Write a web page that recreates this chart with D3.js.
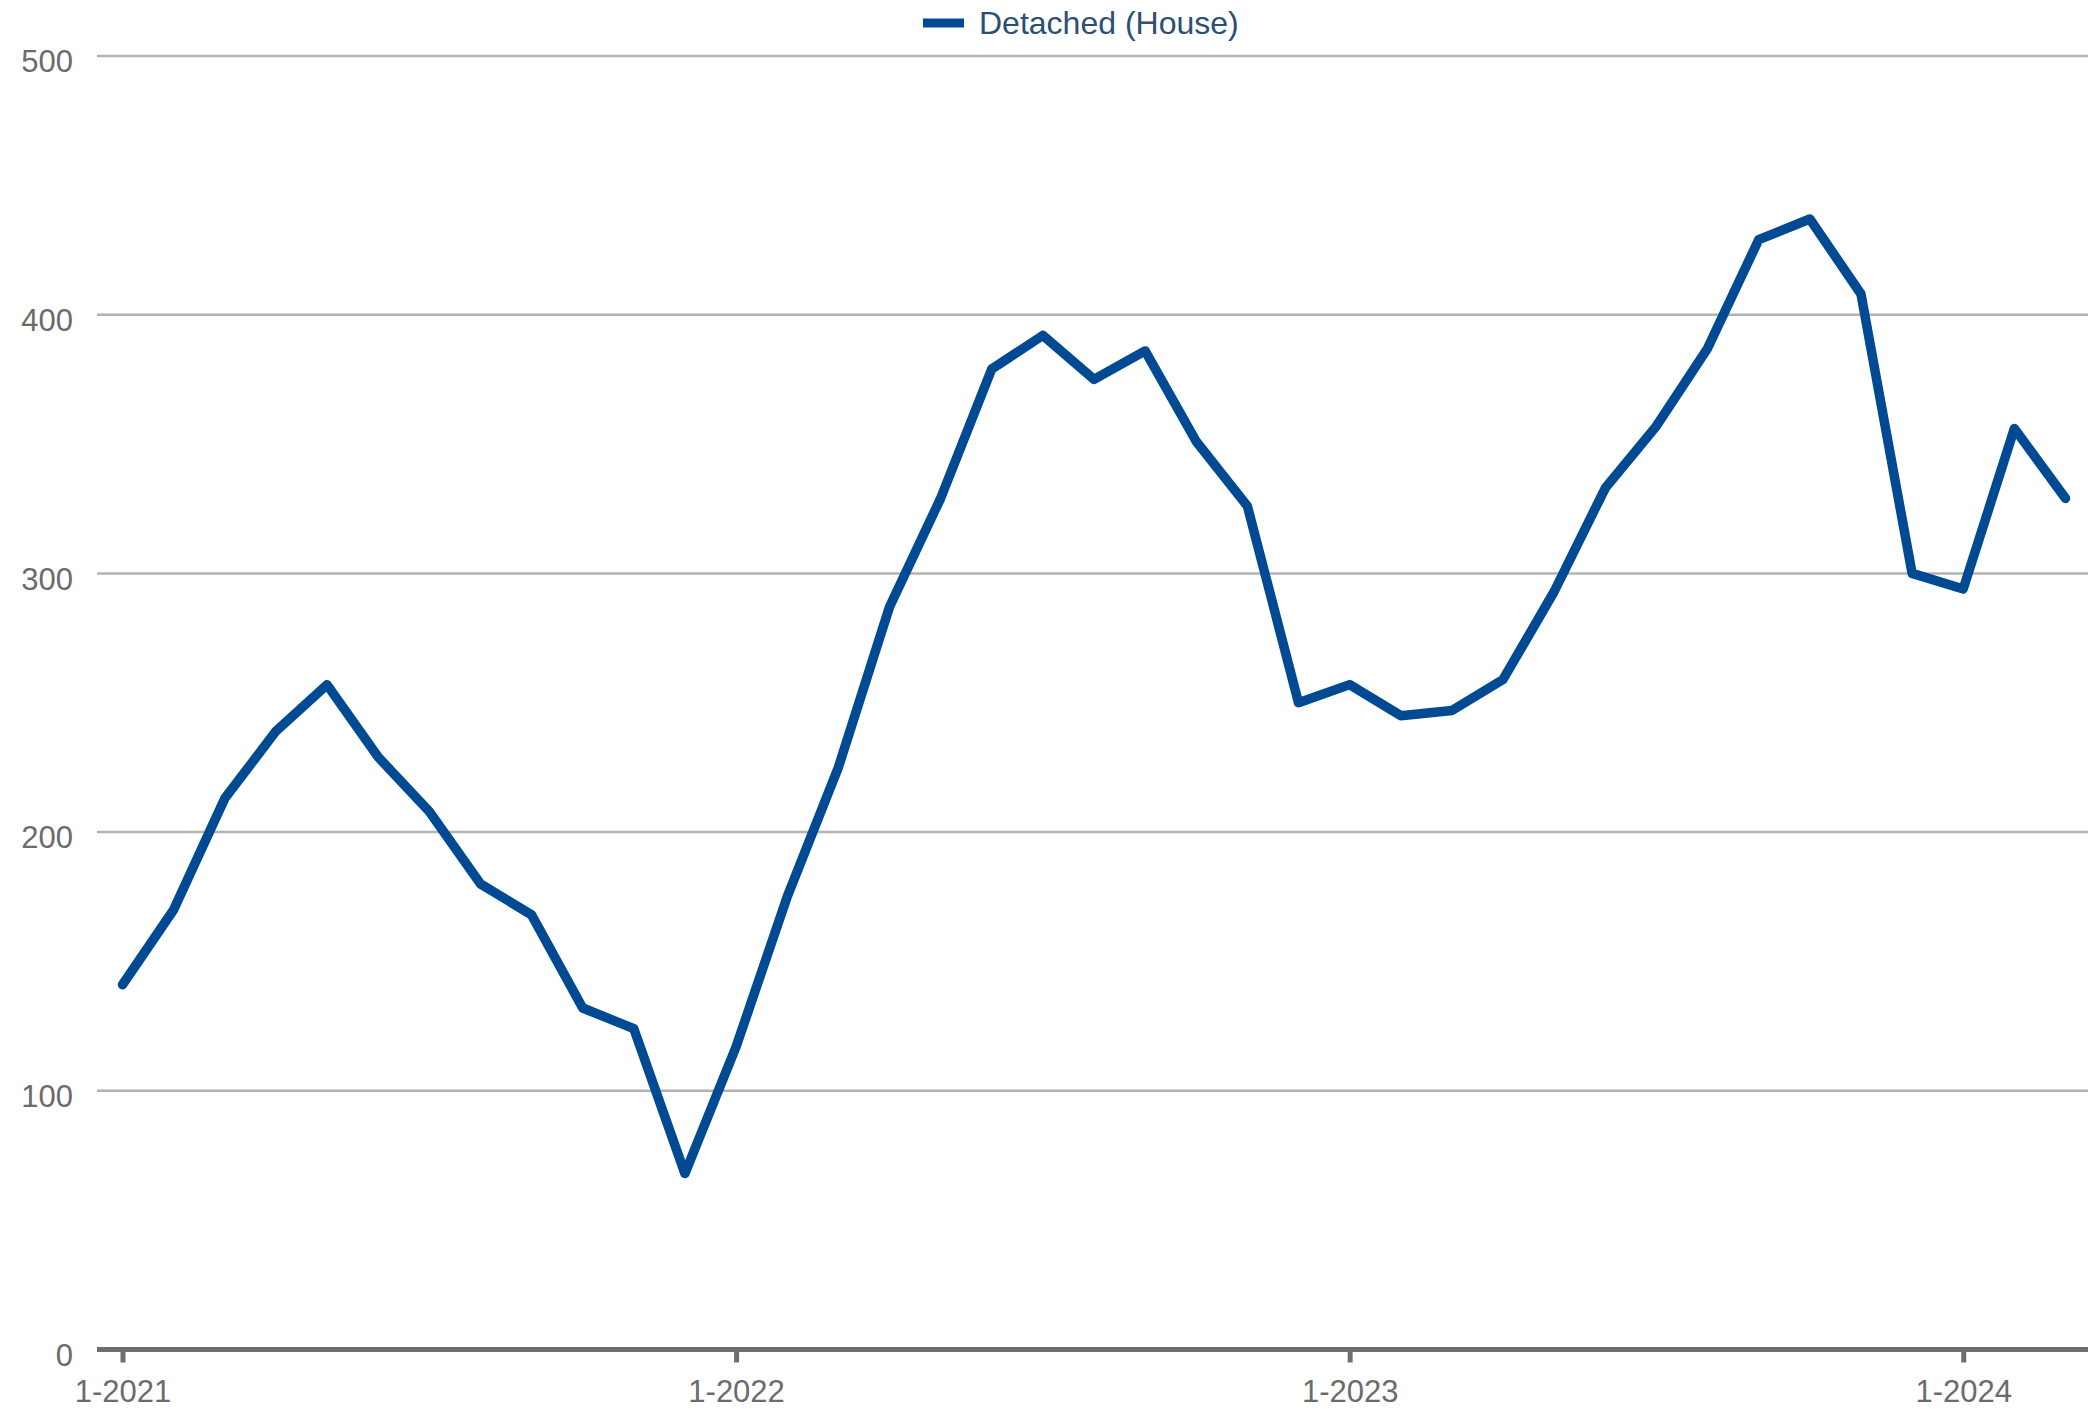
<!DOCTYPE html>
<html>
<head>
<meta charset="utf-8">
<script src="https://cdn.jsdelivr.net/npm/d3@7"></script>
<style>
  body { margin: 0; background: #fff; }
  svg { display: block; font-family: "Liberation Sans", Arial, sans-serif; }
</style>
</head>
<body>
<svg id="chart" width="2088" height="1409"></svg>
<script>
// months Jan 2021 .. Mar 2024
var months = [];
for (var yr = 2021; yr <= 2024; yr++) {
    for (var m = 1; m <= 12; m++) {
        if (yr === 2024 && m > 3) break;
        months.push(m + "-" + yr);
    }
}
var houseValues = [141, 170, 213, 239, 257, 229, 208, 180, 168, 132, 124, 68,
                   117, 175, 225, 287, 329, 379, 392, 375, 386, 351, 326, 250,
                   257, 245, 247, 259, 293, 333, 357, 387, 429, 437, 408, 300,
                   294, 356, 329];
var xTickLabels = ["1-2021", "1-2022", "1-2023", "1-2024"];
var yTicks = [0, 100, 200, 300, 400, 500];
var seriesName = "Detached (House)";

var svg = d3.select("#chart");
var left = 97, right = 2088;

var x = d3.scalePoint().domain(months).range([122.5, 2065.5]);
var y = d3.scaleLinear().domain([0, 500]).range([1349.5, 56]);

// gridlines
svg.append("g").selectAll("line")
    .data(yTicks.filter(function (d) { return d > 0; }))
    .join("line")
    .attr("x1", left).attr("x2", right)
    .attr("y1", function (d) { return y(d); })
    .attr("y2", function (d) { return y(d); })
    .style("stroke", "#b3b3b3")
    .style("stroke-width", 2.5);

// y labels
svg.append("g").selectAll("text")
    .data(yTicks)
    .join("text")
    .attr("x", 73)
    .attr("y", function (d) { return y(d) + 8; })
    .attr("text-anchor", "end")
    .attr("dominant-baseline", "middle")
    .style("font-size", "31px")
    .style("fill", "#6b6b6b")
    .text(function (d) { return d; });

// x axis
var xAxis = d3.axisBottom(x)
    .tickValues(xTickLabels)
    .tickSize(13)
    .tickPadding(17);
var gx = svg.append("g").attr("transform", "translate(0," + y(0) + ")").call(xAxis);
gx.select(".domain").remove();
gx.selectAll(".tick line").style("stroke", "#6e6e6e").style("stroke-width", 5);
gx.selectAll(".tick text")
    .style("font-size", "31px")
    .style("font-family", "'Liberation Sans', Arial, sans-serif")
    .style("fill", "#6b6b6b");

svg.append("line")
    .attr("x1", left).attr("x2", right)
    .attr("y1", y(0)).attr("y2", y(0))
    .style("stroke", "#6e6e6e")
    .style("stroke-width", 5);

// series line
var line = d3.line()
    .x(function (d, i) { return x(months[i]); })
    .y(function (d) { return y(d); });

svg.append("path")
    .datum(houseValues)
    .attr("d", line)
    .style("fill", "none")
    .style("stroke", "#004a93")
    .style("stroke-width", 9.5)
    .style("stroke-linejoin", "round")
    .style("stroke-linecap", "round");

// legend
var legend = svg.append("g");
legend.append("line")
    .attr("x1", 923).attr("x2", 964)
    .attr("y1", 23).attr("y2", 23)
    .style("stroke", "#004a93")
    .style("stroke-width", 9);
legend.append("text")
    .attr("x", 979).attr("y", 26)
    .attr("dominant-baseline", "middle")
    .style("font-size", "32px")
    .style("fill", "#2c4f74")
    .text(seriesName);
</script>
</body>
</html>
